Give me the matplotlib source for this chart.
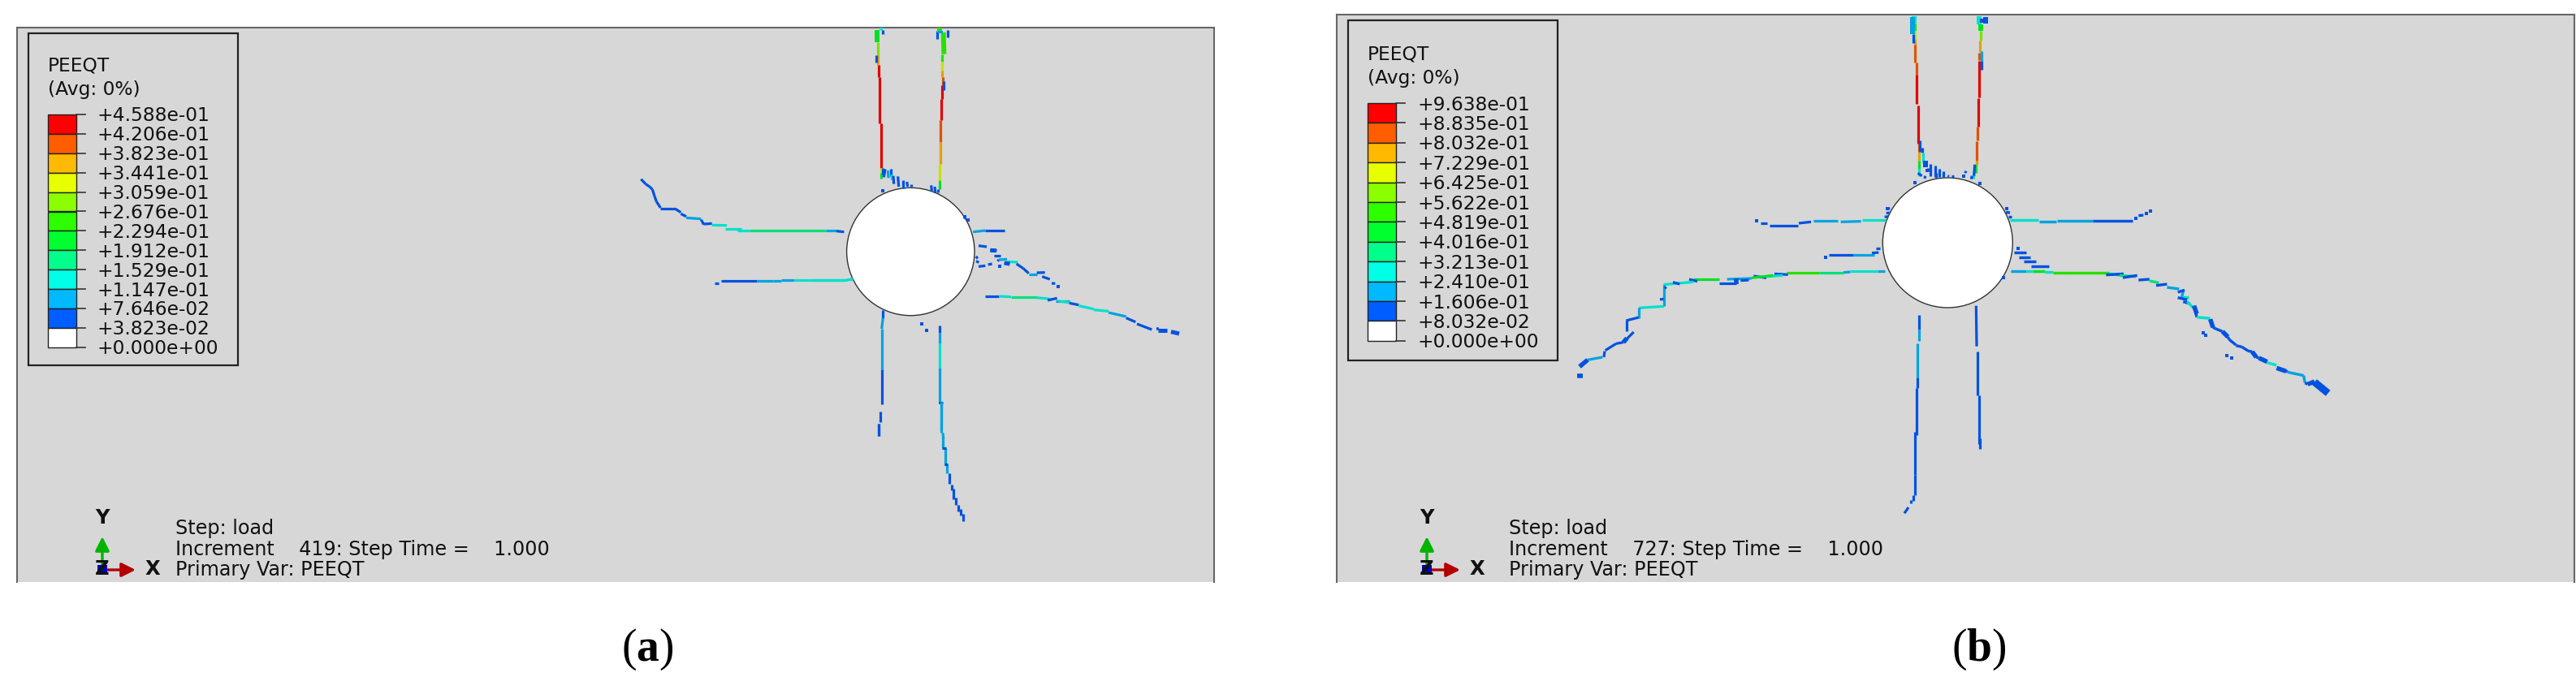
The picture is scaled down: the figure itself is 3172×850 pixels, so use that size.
import numpy as np
import matplotlib
matplotlib.use('Agg')
from matplotlib import pyplot as plt
from matplotlib.collections import LineCollection
from matplotlib.colors import ListedColormap, BoundaryNorm
from matplotlib.patches import Circle, Rectangle

plt.rcParams['font.family'] = ['DejaVu Sans']
plt.rcParams['mathtext.fontset'] = 'custom'
plt.rcParams['mathtext.rm'] = 'Liberation Serif'
plt.rcParams['mathtext.bf'] = 'Liberation Serif:bold'

# contour bands, low to high
band_colors = ['#ffffff', '#005dff', '#00b9ff', '#00ffe7', '#00ff8b', '#00ff2e',
               '#2eff00', '#8bff00', '#e7ff00', '#ffb900', '#ff5d00', '#ff0000']

levels_a = [0.0, 0.03823, 0.07646, 0.1147, 0.1529, 0.1912, 0.2294, 0.2676, 0.3059, 0.3441, 0.3823, 0.4206, 0.4588]
labels_a = ['+0.000e+00', '+3.823e-02', '+7.646e-02', '+1.147e-01', '+1.529e-01', '+1.912e-01', '+2.294e-01',
            '+2.676e-01', '+3.059e-01', '+3.441e-01', '+3.823e-01', '+4.206e-01', '+4.588e-01']
levels_b = [0.0, 0.08032, 0.1606, 0.2410, 0.3213, 0.4016, 0.4819, 0.5622, 0.6425, 0.7229, 0.8032, 0.8835, 0.9638]
labels_b = ['+0.000e+00', '+8.032e-02', '+1.606e-01', '+2.410e-01', '+3.213e-01', '+4.016e-01', '+4.819e-01',
            '+5.622e-01', '+6.425e-01', '+7.229e-01', '+8.032e-01', '+8.835e-01', '+9.638e-01']

a_top_origin = (950, 0)
a_top = [
    (392, 155, 392, 205, .30), (393, 205, 393, 240, .36), (396, 240, 396, 285, .44), (400, 285, 400, 455, .44),
    (404, 455, 404, 620, .44), (405, 620, 405, 640, .33), (405, 640, 405, 660, .20),
    (630, 200, 630, 228, .25), (630, 228, 630, 262, .32), (630, 262, 630, 285, .36), (632, 285, 632, 315, .40),
    (630, 315, 630, 365, .44), (626, 365, 626, 445, .44), (625, 445, 625, 525, .40), (625, 525, 625, 605, .36),
    (621, 605, 621, 665, .32), (620, 665, 620, 700, .22), (616, 700, 616, 712, .06),
    (637, 300, 637, 332, .06), (612, 115, 612, 145, .06), (650, 112, 650, 138, .06),
    (387, 205, 387, 232, .06), (405, 103, 405, 112, .13), (412, 110, 412, 127, .06),
    (412, 620, 412, 645, .06), (420, 625, 415, 655, .06), (430, 630, 432, 658, .10), (442, 625, 442, 650, .06),
    (444, 645, 446, 665, .15), (450, 650, 452, 680, .06), (467, 652, 470, 690, .06), (487, 665, 487, 695, .06),
    (500, 672, 503, 690, .06), (517, 680, 517, 690, .06), (590, 685, 592, 705, .06), (603, 690, 605, 712, .06),
    (712, 800, 716, 808, .06),
]
a_top_wide = [(390, 112, 390, 155, .22), (620, 103, 620, 120, .23), (635, 120, 637, 200, .24), (625, 115, 625, 122, .10)]
a_top_specks = [(412, 706, .06), (727, 812, .06), (405, 105, .13)]

a_left_origin = (760, 200)
a_left = [
    (88, 62, 105, 80, .06), (105, 80, 120, 90, .06), (120, 90, 130, 100, .06), (130, 100, 138, 125, .06),
    (138, 125, 145, 145, .06), (145, 145, 160, 168, .06), (160, 170, 215, 170, .05), (215, 172, 235, 185, .05),
    (235, 190, 255, 200, .07), (255, 205, 310, 209, .09), (310, 212, 320, 230, .06), (320, 228, 350, 226, .05),
    (350, 232, 405, 233, .13), (400, 245, 460, 245, .12), (445, 253, 490, 253, .12),
    (490, 253, 770, 253, .18), (770, 253, 810, 253, .11), (810, 254, 838, 257, .07),
    (360, 447, 375, 447, .05), (383, 439, 515, 439, .05), (515, 439, 575, 439, .09), (575, 437, 605, 437, .10),
    (605, 436, 655, 436, .09), (655, 435, 850, 435, .12), (855, 431, 870, 431, .12),
]

a_right_origin = (1000, 210)
a_right = [
    (595, 227, 640, 222, .09), (640, 223, 710, 223, .05),
    (615, 278, 645, 282, .05), (658, 295, 680, 295, .05), (672, 314, 697, 314, .05), (685, 335, 690, 330, .06),
    (690, 330, 720, 328, .09), (710, 342, 730, 345, .05), (720, 337, 760, 339, .13), (755, 345, 780, 362, .07),
    (780, 362, 800, 380, .06), (800, 385, 830, 385, .08), (830, 378, 860, 377, .07), (850, 392, 878, 402, .06),
    (885, 417, 898, 418, .05), (615, 355, 640, 352, .06), (650, 348, 665, 345, .05), (605, 318, 612, 325, .05),
    (606, 335, 616, 340, .05),
    (640, 465, 690, 465, .05), (690, 465, 735, 467, .13), (735, 468, 830, 468, .18), (830, 470, 880, 475, .15),
    (870, 480, 905, 472, .06), (900, 482, 950, 482, .08), (910, 483, 950, 488, .15), (950, 490, 985, 497, .07),
    (985, 500, 1040, 512, .14), (1040, 515, 1095, 520, .12), (1095, 525, 1160, 540, .08), (1160, 545, 1195, 560, .07),
    (1200, 567, 1255, 588, .05), (1275, 580, 1278, 590, .05),
    (120, 405, 0, 405, .12), (150, 402, 125, 405, .12),
]
a_right_wide = [(658, 295, 680, 296, .05), (710, 342, 730, 345, .05), (1278, 590, 1312, 590, .05), (1326, 596, 1356, 603, .05)]
a_right_specks = [(910, 429, .05), (693, 353, .05), (405, 568, .05), (424, 592, .05), (563, 172, .05)]

a_low_left_origin = (1000, 210)
a_low_left = [
    (262, 515, 262, 545, .07), (262, 545, 257, 585, .08), (257, 585, 257, 735, .09), (257, 735, 257, 865, .05),
    (252, 890, 252, 930, .05), (245, 935, 245, 980, .05),
    (470, 573, 470, 600, .05), (472, 600, 472, 640, .08), (472, 640, 472, 730, .12), (472, 730, 472, 860, .09),
    (478, 860, 478, 960, .09), (483, 970, 485, 990, .09), (468, 858, 484, 858, .05),
]
a_low_origin = (1040, 400)
a_low = [
    (125, 365, 125, 410, .05), (358, 285, 358, 400, .09), (364, 410, 364, 455, .09), (371, 455, 371, 520, .09),
    (379, 515, 379, 550, .08), (386, 548, 386, 588, .05), (395, 590, 395, 612, .05), (403, 605, 403, 645, .05),
    (410, 640, 410, 665, .05), (420, 665, 420, 690, .05), (430, 680, 430, 705, .05), (439, 700, 439, 726, .05),
    (360, 455, 374, 455, .05), (368, 517, 382, 517, .05),
]

b_top_origin = (2180, 0)
b_top = [
    (533, 85, 533, 115, .50), (535, 115, 535, 145, .68), (535, 145, 535, 165, .76), (535, 165, 535, 230, .84),
    (540, 230, 540, 275, .84), (540, 275, 540, 385, .92), (545, 390, 545, 530, .92), (548, 530, 548, 560, .84),
    (548, 560, 548, 595, .76), (548, 595, 548, 625, .48), (549, 625, 549, 652, .28),
    (778, 115, 778, 150, .62), (775, 150, 775, 192, .76), (772, 195, 772, 222, .84), (772, 225, 772, 360, .92),
    (767, 362, 767, 468, .92), (766, 468, 766, 520, .84), (762, 522, 762, 595, .84), (762, 595, 762, 610, .76),
    (760, 610, 760, 640, .45), (750, 640, 750, 660, .25),
    (527, 125, 527, 160, .12), (780, 190, 780, 225, .2), (779, 225, 779, 258, .10),
    (553, 520, 553, 560, .10), (560, 545, 560, 565, .10), (565, 565, 565, 600, .28), (592, 605, 592, 650, .10),
    (608, 612, 608, 655, .10), (625, 625, 625, 655, .10), (640, 632, 640, 655, .10), (582, 620, 582, 632, .10),
    (755, 608, 752, 650, .10), (745, 650, 742, 662, .10), (545, 640, 560, 650, .10), (572, 650, 570, 660, .10),
    (612, 640, 612, 656, .10), (655, 650, 660, 652, .10), (668, 652, 678, 652, .10), (722, 632, 720, 640, .10),
]
b_top_wide = [
    (530, 60, 530, 85, .26), (772, 60, 772, 90, .28), (778, 90, 778, 115, .46), (795, 62, 795, 88, .10),
    (524, 62, 524, 125, .22), (572, 595, 572, 618, .10), (782, 68, 782, 85, .14),
]
b_top_specks = [(535, 675, .10), (775, 678, .10), (715, 652, .10), (432, 772, .10), (872, 772, .10), (580, 630, .10)]

b_left_origin = (1900, 240)
b_left = [
    (1265, 92, 1180, 92, .28), (1175, 98, 1100, 100, .2), (1090, 97, 1000, 97, .2), (990, 100, 945, 105, .10),
    (943, 113, 838, 113, .10), (828, 105, 803, 105, .10),
    (1262, 82, 1275, 80, .10), (1268, 68, 1280, 66, .10), (1272, 52, 1282, 50, .10),
    (1230, 198, 1245, 198, .10), (1240, 213, 1215, 215, .10), (1225, 222, 1145, 222, .2), (1145, 222, 1057, 222, .10),
    (1262, 283, 1235, 283, .2), (1235, 283, 1135, 283, .28), (1135, 285, 1110, 287, .2), (1110, 288, 1020, 288, .38),
    (1020, 288, 900, 288, .50), (905, 295, 855, 292, .10), (885, 298, 825, 302, .3), (825, 307, 778, 300, .10),
    (850, 298, 770, 307, .45), (770, 309, 680, 312, .22), (760, 315, 730, 317, .10),
    (715, 327, 652, 327, .14), (650, 312, 555, 312, .42), (570, 320, 540, 312, .10), (555, 322, 445, 332, .28),
    (505, 330, 480, 323, .10), (447, 332, 447, 412, .18), (432, 387, 445, 385, .10),
    (447, 412, 355, 418, .28), (353, 418, 353, 455, .18), (353, 453, 307, 465, .10), (308, 465, 308, 505, .10),
    (335, 507, 297, 545, .10), (297, 545, 270, 550, .10), (270, 550, 230, 575, .10), (228, 578, 225, 600, .10),
    (220, 600, 165, 610, .18), (455, 340, 450, 346, .10),
]
b_left_wide = [(715, 308, 715, 330, .10), (165, 610, 135, 635, .10), (297, 545, 310, 530, .10), (127, 668, 147, 668, .10)]
b_left_specks = [(790, 97, .10), (1043, 231, .10)]

b_right_origin = (2420, 240)
b_right = [
    (165, 93, 270, 93, .28), (272, 100, 335, 100, .2), (340, 97, 470, 97, .2), (470, 97, 617, 97, .10),
    (640, 77, 658, 75, .10), (150, 65, 165, 66, .10), (158, 82, 172, 82, .10),
    (180, 214, 225, 214, .10), (197, 230, 240, 230, .10), (217, 247, 260, 247, .10), (243, 263, 310, 263, .10),
    (168, 283, 225, 283, .2), (225, 283, 250, 283, .28), (250, 283, 295, 283, .42), (295, 285, 325, 285, .25),
    (325, 288, 530, 288, .50), (530, 292, 570, 297, .30), (520, 296, 585, 292, .10), (570, 298, 630, 302, .36),
    (582, 306, 635, 298, .10), (640, 315, 680, 312, .14), (680, 318, 715, 325, .38), (705, 335, 745, 330, .10),
    (745, 342, 790, 348, .2), (805, 355, 800, 378, .18), (785, 360, 810, 352, .10), (800, 378, 825, 378, .26),
    (785, 380, 820, 388, .10), (805, 395, 830, 402, .10), (820, 395, 850, 425, .28), (845, 410, 855, 452, .10),
    (855, 452, 905, 457, .28), (905, 460, 915, 490, .10), (915, 490, 925, 495, .10), (925, 495, 950, 505, .10),
    (970, 525, 975, 535, .10), (975, 535, 1000, 555, .10), (1000, 557, 1022, 562, .12), (1022, 562, 1045, 577, .10),
    (1045, 577, 1060, 580, .10), (1060, 580, 1075, 600, .10), (1075, 600, 1085, 603, .10),
    (1115, 620, 1150, 630, .26), (1185, 650, 1190, 655, .10), (1190, 655, 1250, 668, .22), (1250, 668, 1255, 695, .18),
    (1255, 695, 1265, 700, .10),
]
b_right_wide = [
    (950, 505, 970, 525, .10), (1085, 603, 1115, 617, .10), (1150, 640, 1185, 652, .10), (1265, 700, 1290, 690, .10),
    (845, 410, 855, 440, .10), (905, 460, 915, 490, .10), (1060, 580, 1075, 600, .10),
]
b_right_thick = [(1290, 692, 1340, 733, .10)]
b_right_specks = [(195, 198, .10), (630, 88, .10), (670, 69, .10), (685, 61, .10), (880, 510, .10), (888, 518, .10),
                  (965, 595, .10), (983, 603, .10), (140, 307, .10)]

b_low_origin = (2260, 370)
b_low = [
    (308, 55, 308, 108, .10), (308, 108, 308, 150, .2), (304, 160, 304, 285, .2), (304, 285, 304, 325, .10),
    (299, 325, 299, 498, .10), (295, 485, 295, 645, .10), (293, 645, 293, 720, .10), (287, 720, 287, 740, .10),
    (280, 738, 280, 750, .10), (270, 765, 255, 787, .10),
    (520, 20, 522, 170, .10), (526, 190, 526, 350, .10), (530, 350, 530, 530, .10), (535, 510, 535, 548, .10),
]

# crack colours come out a little darker than the legend in the picture
crack_colors = [np.array(matplotlib.colors.to_rgb(c)) * 0.88 for c in band_colors]
px = 72 / 100


def from_crop(origin, segs):
    arr = np.array(segs, dtype=float)
    arr[:, [0, 2]] = origin[0] + arr[:, [0, 2]] / 3
    arr[:, [1, 3]] = origin[1] + arr[:, [1, 3]] / 3
    return arr


def draw_segs(ax, origin, segs, norm, width):
    arr = from_crop(origin, segs)
    lines = arr[:, :4].reshape(-1, 2, 2)
    lc = LineCollection(lines, array=arr[:, 4], cmap=ListedColormap(crack_colors), norm=norm,
                        linewidths=width * px, capstyle='butt', zorder=3)
    ax.add_collection(lc)


def draw_specks(ax, origin, specks, norm):
    arr = np.array(specks, dtype=float)
    ax.scatter(origin[0] + arr[:, 0] / 3, origin[1] + arr[:, 1] / 3, c=arr[:, 2], s=7, marker='s', linewidths=0,
               cmap=ListedColormap(crack_colors), norm=norm, zorder=3)


def draw_legend(ax, x0, top, bottom, tick0, step, labels):
    ax.add_patch(Rectangle((x0, top), 258, bottom - top, fill=False, ec='#222222', lw=1.6, zorder=4))
    ax.text(x0 + 24, tick0 - 53, 'PEEQT', fontsize=16.8, va='baseline', color='#111111')
    ax.text(x0 + 24, tick0 - 24, '(Avg: 0%)', fontsize=16.8, va='baseline', color='#111111')
    for i in range(12):
        y = tick0 + i * step
        ax.add_patch(Rectangle((x0 + 24, y), 35, step, fc=band_colors[11 - i], ec='#222222', lw=1, zorder=4))
    for i in range(13):
        y = tick0 + i * step
        ax.plot([x0 + 59, x0 + 70], [y, y], color='#333333', lw=1.2, zorder=4)
        ax.text(x0 + 85, y + 8.5, labels[12 - i], fontsize=16.8, va='baseline', color='#111111')


def draw_triad(ax, x, y):
    ax.annotate('', xy=(x, y - 41), xytext=(x, y), zorder=5,
                arrowprops=dict(arrowstyle='-|>', lw=2.4, color='#00b400', mutation_scale=26, shrinkA=0, shrinkB=0))
    ax.annotate('', xy=(x + 41, y), xytext=(x, y), zorder=5,
                arrowprops=dict(arrowstyle='-|>', lw=2.4, color='#b40000', mutation_scale=26, shrinkA=0, shrinkB=0))
    ax.add_patch(Rectangle((x - 6, y - 6), 12, 11, fc='#0000c0', ec='none', zorder=5))
    ax.text(x, y + 6, 'Z', fontsize=17.5, fontweight='bold', ha='center', va='baseline', color='#111111', zorder=6)
    ax.text(x, y - 57, 'Y', fontsize=17.5, fontweight='bold', ha='center', va='baseline', color='#111111')
    ax.text(x + 62, y + 6, 'X', fontsize=17.5, fontweight='bold', ha='center', va='baseline', color='#111111')


def draw_info(ax, x, increment):
    ax.text(x, 658, 'Step: load', fontsize=17.2, va='baseline', color='#111111')
    ax.text(x, 684, 'Increment    %s: Step Time =    1.000' % increment, fontsize=17.2, va='baseline', color='#111111')
    ax.text(x, 709, 'Primary Var: PEEQT', fontsize=17.2, va='baseline', color='#111111')


def make_panel(fig, left, right, top, bottom):
    W, H = 3172, 850
    ax = fig.add_axes([left / W, 1 - bottom / H, (right - left) / W, (bottom - top) / H])
    ax.set_xlim(left, right)
    ax.set_ylim(bottom, top)
    ax.set_facecolor('#d7d7d7')
    ax.set_xticks([])
    ax.set_yticks([])
    for s in ['top', 'left', 'right']:
        ax.spines[s].set_color('#666666')
        ax.spines[s].set_linewidth(1.5)
    ax.spines['bottom'].set_visible(False)
    return ax


def main():
    fig = plt.figure(figsize=(31.72, 8.5), dpi=100, facecolor='white')

    ax = make_panel(fig, 20.5, 1495, 34, 717)
    norm = BoundaryNorm(levels_a, 12)
    ax.add_patch(Circle((1121.3, 310), 78.7, fc='white', ec='#333333', lw=1.0, zorder=2))
    draw_segs(ax, a_top_origin, a_top, norm, 3.2)
    draw_segs(ax, a_top_origin, a_top_wide, norm, 6)
    draw_specks(ax, a_top_origin, a_top_specks, norm)
    draw_segs(ax, a_left_origin, a_left, norm, 3.2)
    draw_segs(ax, a_right_origin, a_right, norm, 3.2)
    draw_segs(ax, a_right_origin, a_right_wide, norm, 5)
    draw_specks(ax, a_right_origin, a_right_specks, norm)
    draw_segs(ax, a_low_left_origin, a_low_left, norm, 3.2)
    draw_segs(ax, a_low_origin, a_low, norm, 3.2)
    draw_legend(ax, 35, 41, 450, 141, 23.9, labels_a)
    draw_triad(ax, 126, 702)
    draw_info(ax, 216, '419')

    ax = make_panel(fig, 1646, 3170, 18, 717)
    norm = BoundaryNorm(levels_b, 12)
    ax.add_patch(Circle((2398.3, 299), 80, fc='white', ec='#333333', lw=1.0, zorder=2))
    draw_segs(ax, b_top_origin, b_top, norm, 3.2)
    draw_segs(ax, b_top_origin, b_top_wide, norm, 6)
    draw_specks(ax, b_top_origin, b_top_specks, norm)
    draw_segs(ax, b_left_origin, b_left, norm, 3.2)
    draw_segs(ax, b_left_origin, b_left_wide, norm, 5.5)
    draw_specks(ax, b_left_origin, b_left_specks, norm)
    draw_segs(ax, b_right_origin, b_right, norm, 3.4)
    draw_segs(ax, b_right_origin, b_right_wide, norm, 5.5)
    draw_segs(ax, b_right_origin, b_right_thick, norm, 9)
    draw_specks(ax, b_right_origin, b_right_specks, norm)
    draw_segs(ax, b_low_origin, b_low, norm, 3.2)
    draw_legend(ax, 1660, 25, 444, 127, 24.4, labels_b)
    draw_triad(ax, 1757, 702)
    draw_info(ax, 1858, '727')

    fig.text(797 / 3172, 1 - 800 / 850, r'($\mathbf{a}$)', family='Liberation Serif', fontsize=40, ha='center', va='center')
    fig.text(2437 / 3172, 1 - 800 / 850, r'($\mathbf{b}$)', family='Liberation Serif', fontsize=40, ha='center', va='center')
    fig.savefig('out.png', dpi=100)


if __name__ == '__main__':
    main()
